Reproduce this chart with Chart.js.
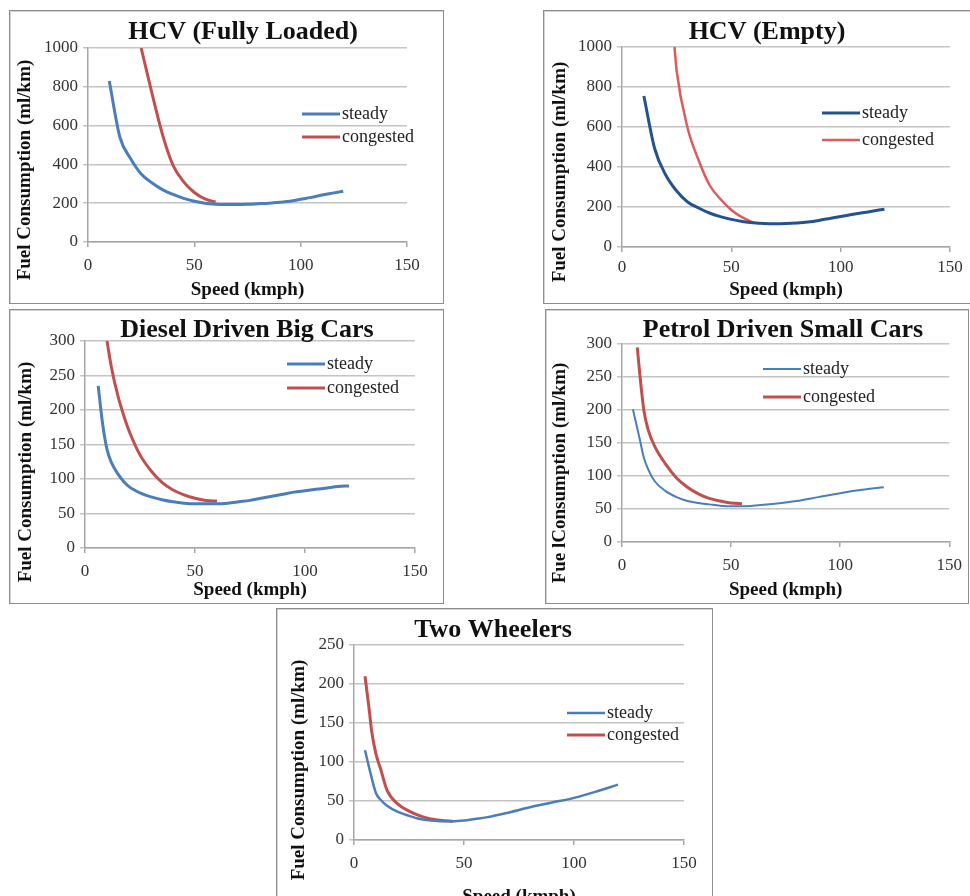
<!DOCTYPE html>
<html>
<head>
<meta charset="utf-8">
<script src="https://cdn.jsdelivr.net/npm/chart.js@4.4.1/dist/chart.umd.min.js"></script>
<style>
  html, body { margin: 0; padding: 0; background: #fff; }
  body { width: 970px; height: 896px; overflow: hidden; position: relative; }
  .frame { position: absolute; box-sizing: border-box; border: 1px solid #8c8c8c; box-shadow: inset 1px 1px 0 #d4d4d4; }
  canvas { position: absolute; }
</style>
</head>
<body>
<div class="frame" style="left:9px;top:10px;width:435px;height:294px"></div>
<div class="frame" style="left:543px;top:10px;width:440px;height:294px"></div>
<div class="frame" style="left:9px;top:309px;width:435px;height:295px"></div>
<div class="frame" style="left:545px;top:309px;width:424px;height:295px"></div>
<div class="frame" style="left:276px;top:608px;width:437px;height:300px"></div>

<canvas id="c1" width="434" height="293" style="left:9px;top:10px"></canvas>
<canvas id="c2" width="427" height="293" style="left:543px;top:10px"></canvas>
<canvas id="c3" width="434" height="294" style="left:9px;top:309px"></canvas>
<canvas id="c4" width="425" height="294" style="left:545px;top:309px"></canvas>
<canvas id="c5" width="436" height="304" style="left:276px;top:608px"></canvas>

<script>
// --- data (speed in kmph, fuel in ml/km) ---
const hcvSpeeds = [10, 15, 20, 25, 30, 35, 40, 45, 50, 55, 60, 65, 70, 75, 80, 85, 90, 95, 100, 105, 110, 115, 120];

const hcvLoadedSteady = [830, 540, 430, 350, 305, 270, 245, 225, 210, 200, 195, 193, 193, 194, 197, 200, 205, 210, 220, 230, 242, 252, 262];
const hcvLoadedCongSpeeds = [25, 30, 35, 40, 45, 50, 55, 60];
const hcvLoadedCong = [1000, 770, 555, 395, 310, 255, 222, 206];

const hcvEmptySteady = [755, 490, 360, 280, 225, 195, 170, 152, 138, 128, 121, 117, 116, 117, 120, 125, 133, 143, 153, 162, 171, 180, 189];
const hcvEmptyCongSpeeds = [24, 25, 30, 35, 40, 45, 50, 55, 60];
const hcvEmptyCong = [1000, 880, 595, 435, 310, 240, 185, 148, 122];

const dieselSteadySpeeds = [6, 8, 10, 12, 15, 18, 20, 25, 30, 35, 40, 45, 50, 55, 60, 65, 70, 75, 80, 85, 90, 95, 100, 105, 110, 115, 120];
const dieselSteady = [235, 180, 143, 124, 107, 95, 89, 80, 74, 70, 67, 65, 64, 64, 64, 65, 67, 69, 72, 75, 78, 81, 83, 85, 87, 89, 90];
const dieselCongSpeeds = [10, 12, 15, 18, 20, 25, 30, 35, 40, 45, 50, 55, 60];
const dieselCong = [300, 262, 220, 188, 170, 135, 112, 95, 84, 77, 72, 69, 68];

const petrolSteadySpeeds = [5, 8, 10, 12, 15, 20, 25, 30, 35, 40, 45, 50, 55, 60, 70, 80, 90, 100, 110, 120];
const petrolSteady = [201, 158, 128, 110, 92, 77, 68, 62, 59, 57, 55, 54, 54, 55, 58, 62, 68, 74, 79, 83];
const petrolCongSpeeds = [7, 8, 10, 12, 15, 20, 25, 30, 35, 40, 45, 50, 55];
const petrolCong = [295, 260, 200, 170, 145, 118, 97, 83, 73, 66, 62, 59, 58];

const twSteadySpeeds = [5, 8, 10, 12, 15, 20, 25, 30, 35, 40, 45, 50, 55, 60, 70, 80, 90, 100, 110, 120];
const twSteady = [115, 80, 60, 52, 44, 36, 31, 27, 25, 24, 24, 25, 27, 29, 35, 42, 48, 54, 62, 71];
const twCongSpeeds = [5, 7, 8, 10, 12, 15, 20, 25, 30, 35, 40, 45];
const twCong = [210, 165, 140, 110, 92, 64, 46, 37, 31, 27, 25, 24];

const seriesNames = ["steady", "congested"];
const xTitle = "Speed (kmph)";

const pts = (xs, ys) => xs.map((x, i) => ({ x: x, y: ys[i] }));

// titles, y-axis title and legend drawn over the canvas
const decor = {
  id: "decor",
  afterDraw(chart, args, o) {
    const ctx = chart.ctx;
    ctx.save();
    ctx.fillStyle = "#111";
    ctx.textAlign = "center";
    ctx.textBaseline = "middle";
    ctx.font = "bold 26px 'Liberation Serif'";
    ctx.fillText(o.title, o.tx, o.ty);

    ctx.save();
    ctx.translate(o.yx, o.yy);
    ctx.rotate(-Math.PI / 2);
    ctx.font = "bold 19px 'Liberation Serif'";
    ctx.fillText(o.yTitle, 0, 0);
    ctx.restore();

    ctx.textAlign = "left";
    ctx.font = "18px 'Liberation Serif'";
    chart.data.datasets.forEach((ds, i) => {
      const y = o.ly[i];
      ctx.strokeStyle = ds.borderColor;
      ctx.lineWidth = ds.borderWidth;
      ctx.beginPath();
      ctx.moveTo(o.lx, y);
      ctx.lineTo(o.lx + 38, y);
      ctx.stroke();
      ctx.fillStyle = "#222";
      ctx.fillText(ds.label, o.lx + 40, y);
    });
    ctx.restore();
  }
};

function makePanel(id, cfg) {
  new Chart(document.getElementById(id), {
    type: "line",
    data: {
      datasets: [
        { label: seriesNames[0], data: cfg.steady, borderColor: cfg.steadyColor, borderWidth: cfg.steadyWidth,
          pointRadius: 0, cubicInterpolationMode: "monotone", fill: false },
        { label: seriesNames[1], data: cfg.cong, borderColor: cfg.congColor, borderWidth: cfg.congWidth,
          pointRadius: 0, cubicInterpolationMode: "monotone", fill: false }
      ]
    },
    options: {
      responsive: false,
      animation: false,
      devicePixelRatio: 1,
      layout: { padding: { left: 0, top: cfg.top, right: cfg.right, bottom: 0 } },
      plugins: {
        legend: { display: false },
        tooltip: { enabled: false },
        decor: cfg.decor
      },
      scales: {
        x: {
          type: "linear", min: 0, max: 150,
          ticks: { stepSize: 50, padding: cfg.xPad, color: "#333", font: { family: "'Liberation Serif'", size: 17 } },
          grid: { drawOnChartArea: false, tickLength: 5, color: "#a6a6a6", lineWidth: 1.5 },
          border: { color: "#a6a6a6", width: 1.5 },
          title: { display: true, text: xTitle, color: "#111", padding: { top: 0, bottom: cfg.xtPad },
                   font: { family: "'Liberation Serif'", size: 19, weight: "bold" } },
          afterFit: s => { s.height = cfg.xh; }
        },
        y: {
          min: 0, max: cfg.ymax,
          ticks: { stepSize: cfg.ystep, padding: 5, color: "#333", font: { family: "'Liberation Serif'", size: 17 },
                   callback: v => String(v) },
          grid: { tickLength: 5, color: "#c4c4c4", lineWidth: 1.5 },
          border: { color: "#a6a6a6", width: 1.5 },
          afterFit: s => { s.width = cfg.yw; }
        }
      }
    },
    plugins: [decor]
  });
}

const blue = "#4a7ebb", navy = "#24528f", red = "#c0504d", lightRed = "#dc5c59";

makePanel("c1", {
  steady: pts(hcvSpeeds, hcvLoadedSteady), cong: pts(hcvLoadedCongSpeeds, hcvLoadedCong),
  steadyColor: blue, steadyWidth: 3, congColor: red, congWidth: 3,
  ymax: 1000, ystep: 200, top: 38, right: 36, yw: 79, xh: 61, xPad: 8, xtPad: 2,
  decor: { title: "HCV (Fully Loaded)", tx: 234, ty: 22, yTitle: "Fuel Consumption (ml/km)", yx: 16, yy: 160,
           lx: 293, ly: [104, 127] }
});

makePanel("c2", {
  steady: pts(hcvSpeeds, hcvEmptySteady), cong: pts(hcvEmptyCongSpeeds, hcvEmptyCong),
  steadyColor: navy, steadyWidth: 3, congColor: lightRed, congWidth: 2.5,
  ymax: 1000, ystep: 200, top: 37, right: 20, yw: 79, xh: 56, xPad: 5, xtPad: 2,
  decor: { title: "HCV (Empty)", tx: 224, ty: 22, yTitle: "Fuel Consumption (ml/km)", yx: 17, yy: 162,
           lx: 279, ly: [103, 130] }
});

makePanel("c3", {
  steady: pts(dieselSteadySpeeds, dieselSteady), cong: pts(dieselCongSpeeds, dieselCong),
  steadyColor: blue, steadyWidth: 3, congColor: red, congWidth: 3,
  ymax: 300, ystep: 50, top: 32, right: 28, yw: 76, xh: 55, xPad: 8, xtPad: 2,
  decor: { title: "Diesel Driven Big Cars", tx: 238, ty: 21, yTitle: "Fuel Consumption (ml/km)", yx: 17, yy: 163,
           lx: 278, ly: [55, 79] }
});

makePanel("c4", {
  steady: pts(petrolSteadySpeeds, petrolSteady), cong: pts(petrolCongSpeeds, petrolCong),
  steadyColor: blue, steadyWidth: 2, congColor: red, congWidth: 3,
  ymax: 300, ystep: 50, top: 35, right: 18, yw: 77, xh: 61, xPad: 8, xtPad: 2,
  decor: { title: "Petrol Driven Small Cars", tx: 238, ty: 21, yTitle: "Fue lConsumption (ml/km)", yx: 15, yy: 164,
           lx: 218, ly: [60, 88] }
});

makePanel("c5", {
  steady: pts(twSteadySpeeds, twSteady), cong: pts(twCongSpeeds, twCong),
  steadyColor: blue, steadyWidth: 2.5, congColor: red, congWidth: 3,
  ymax: 250, ystep: 50, top: 37, right: 28, yw: 78, xh: 72, xPad: 8, xtPad: 4,
  decor: { title: "Two Wheelers", tx: 217, ty: 22, yTitle: "Fuel Consumption (ml/km)", yx: 23, yy: 162,
           lx: 291, ly: [105, 127] }
});
</script>
</body>
</html>
